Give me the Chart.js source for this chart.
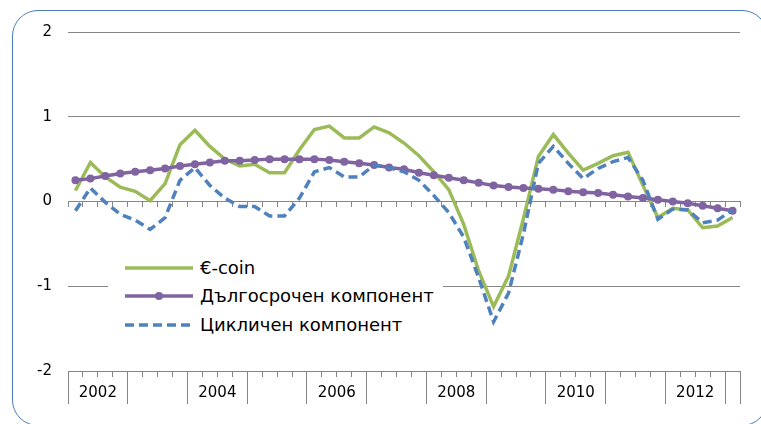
<!DOCTYPE html>
<html>
<head>
<meta charset="utf-8">
<script src="https://cdn.jsdelivr.net/npm/chart.js@4.4.1/dist/chart.umd.min.js"></script>
<style>
html,body{margin:0;padding:0;background:#fff;}
#wrap{position:relative;width:761px;height:424px;overflow:hidden;font-family:"DejaVu Sans",Verdana,sans-serif;}
#chart{position:absolute;left:0;top:0;}
#ramka{position:absolute;left:12px;top:10px;width:756px;height:416px;border:1.5px solid #4a7ebb;border-radius:26px;box-sizing:border-box;}
#legenda{position:absolute;left:108px;top:252px;width:335px;height:88px;background:#fff;}
.red{position:absolute;left:0;height:24px;line-height:24px;font-size:18px;color:#000;white-space:nowrap;}
.red svg{position:absolute;left:17px;top:7px;}
.red span{position:absolute;left:92px;}
</style>
</head>
<body>
<div id="wrap">
  <canvas id="chart" width="761" height="424"></canvas>
  <div id="ramka"></div>
  <div id="legenda"></div>
</div>
<script>
// тримесечия по оста X
const kvartali = [
  '2002 Q1','2002 Q2','2002 Q3','2002 Q4','2003 Q1','2003 Q2','2003 Q3','2003 Q4',
  '2004 Q1','2004 Q2','2004 Q3','2004 Q4','2005 Q1','2005 Q2','2005 Q3','2005 Q4',
  '2006 Q1','2006 Q2','2006 Q3','2006 Q4','2007 Q1','2007 Q2','2007 Q3','2007 Q4',
  '2008 Q1','2008 Q2','2008 Q3','2008 Q4','2009 Q1','2009 Q2','2009 Q3','2009 Q4',
  '2010 Q1','2010 Q2','2010 Q3','2010 Q4','2011 Q1','2011 Q2','2011 Q3','2011 Q4',
  '2012 Q1','2012 Q2','2012 Q3','2012 Q4','2013 Q1'
];
// години, които се надписват
const etiketiGodini = ['2002','2004','2006','2008','2010','2012'];
const stoinostiY = [-2,-1,0,1,2];

const eCoin = [0.13,0.46,0.29,0.17,0.12,0.01,0.21,0.67,0.84,0.65,0.50,0.42,0.44,0.34,0.34,0.61,
  0.85,0.89,0.75,0.75,0.88,0.81,0.69,0.54,0.35,0.14,-0.27,-0.82,-1.24,-0.88,-0.20,0.53,
  0.79,0.57,0.37,0.45,0.54,0.58,0.19,-0.19,-0.08,-0.10,-0.31,-0.29,-0.19];
const dalgosrochen = [0.25,0.27,0.30,0.33,0.35,0.37,0.39,0.42,0.44,0.46,0.48,0.48,0.49,0.50,0.50,0.50,
  0.50,0.49,0.47,0.45,0.43,0.40,0.38,0.34,0.31,0.28,0.25,0.22,0.19,0.17,0.16,0.15,
  0.14,0.12,0.11,0.10,0.08,0.06,0.04,0.02,0.00,-0.02,-0.05,-0.08,-0.11];
const ciklichen = [-0.11,0.16,-0.01,-0.15,-0.22,-0.33,-0.19,0.25,0.40,0.19,0.04,-0.06,-0.06,-0.17,-0.17,0.04,
  0.35,0.40,0.29,0.29,0.43,0.40,0.35,0.25,0.07,-0.13,-0.42,-0.90,-1.42,-1.08,-0.38,0.45,
  0.65,0.45,0.27,0.39,0.47,0.52,0.25,-0.21,-0.09,-0.10,-0.25,-0.22,-0.10];

const serii = [
  {ime:'€-coin', danni:eCoin, cvjat:'#9bbb59', tire:[], tochki:0},
  {ime:'Дългосрочен компонент', danni:dalgosrochen, cvjat:'#8064a2', tire:[], tochki:4},
  {ime:'Цикличен компонент', danni:ciklichen, cvjat:'#4f81bd', tire:[9,5], tochki:0}
];

const sivo = '#868686';

// граници между тримесечията и между годините (в единици на категориите)
const graniciKv = kvartali.map((k,i)=>i-0.5).concat([kvartali.length-0.5]);
const graniciGod = kvartali.map((k,i)=>k.endsWith('Q1')?i-0.5:null).filter(v=>v!==null).concat([kvartali.length-0.5]);
const centroveGod = etiketiGodini.map(g=>kvartali.indexOf(g+' Q1')+1.5);

Chart.defaults.font.family = '"DejaVu Sans", Verdana, sans-serif';

function pomoshtnaOs(pozicia, tikove, ekstra){
  return Object.assign({
    type:'linear', axis:'x', position:pozicia,
    min:-0.5, max:kvartali.length-0.5,
    afterBuildTicks: s=>{ s.ticks = tikove.map(v=>({value:v})); },
    ticks:{display:false},
    grid:{drawOnChartArea:false, color:sivo},
    border:{display:false}
  }, ekstra);
}

var ctx = document.getElementById('chart').getContext('2d');
var grafika = new Chart(ctx, {
  type:'line',
  data:{
    labels:kvartali,
    datasets: serii.map((s,i)=>({
      label:s.ime,
      data:s.danni,
      borderColor:s.cvjat,
      backgroundColor:s.cvjat,
      borderWidth:3.5,
      borderDash:s.tire,
      borderCapStyle:'butt',
      pointRadius:s.tochki,
      pointBorderWidth:0,
      pointHoverRadius:s.tochki,
      tension:0,
      order:serii.length-i,
      xAxisID:'x', yAxisID:'y'
    }))
  },
  options:{
    responsive:false,
    animation:false,
    layout:{padding:{top:32,right:21,left:0,bottom:0}},
    plugins:{legend:{display:false}, tooltip:{enabled:false}},
    scales:{
      x:{
        type:'category', position:'bottom', offset:true,
        grid:{offset:true, drawOnChartArea:false, tickLength:6, color:sivo},
        border:{color:sivo},
        ticks:{display:false},
        afterFit: s=>{ s.height = 53; }
      },
      y:{
        min:stoinostiY[0], max:stoinostiY[stoinostiY.length-1],
        afterBuildTicks: s=>{ s.ticks = stoinostiY.map(v=>({value:v})); },
        ticks:{padding:16, color:'#000', font:{size:15}},
        grid:{color:sivo, drawTicks:false},
        border:{display:false},
        afterFit: s=>{ s.width = 68; }
      },
      xNula: pomoshtnaOs({y:0}, graniciKv, {
        grid:{drawOnChartArea:false, color:sivo, tickLength:5},
        border:{display:true, color:sivo}
      }),
      xGodini: pomoshtnaOs({y:stoinostiY[0]}, graniciGod, {
        grid:{drawOnChartArea:false, color:sivo, tickLength:33}
      }),
      xEtiketi: pomoshtnaOs({y:stoinostiY[0]}, centroveGod, {
        grid:{display:false, drawTicks:false},
        ticks:{display:true, padding:13, color:'#000', font:{size:15}, autoSkip:false, maxRotation:0,
          callback:(v,i)=>etiketiGodini[i]}
      })
    }
  }
});

// легенда вътре в областта на графиката
var leg = document.getElementById('legenda');
var redY = [4, 32, 61];
serii.forEach((s,i)=>{
  var r = document.createElement('div');
  r.className = 'red';
  r.style.top = redY[i]+'px';
  var marker = s.tochki ? '<circle cx="34" cy="5" r="4" fill="'+s.cvjat+'"/>' : '';
  var dash = s.tire.length ? ' stroke-dasharray="'+s.tire.join(',')+'"' : '';
  r.innerHTML = '<svg width="68" height="10"><line x1="0" y1="5" x2="68" y2="5" stroke="'+s.cvjat+'" stroke-width="3.5"'+dash+'/>'+marker+'</svg><span>'+s.ime+'</span>';
  leg.appendChild(r);
});
</script>
</body>
</html>
